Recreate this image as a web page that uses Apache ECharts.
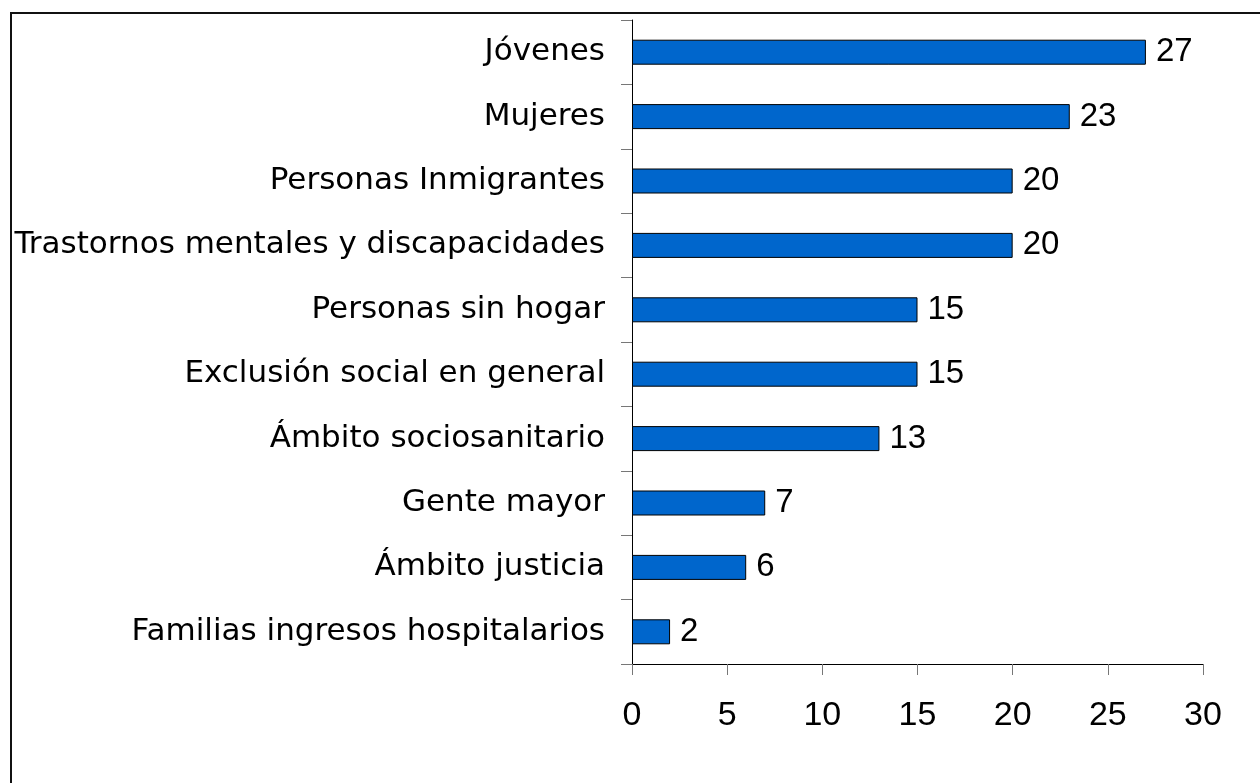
<!DOCTYPE html>
<html>
<head>
<meta charset="utf-8">
<script src="https://cdn.jsdelivr.net/npm/echarts@6/dist/echarts.min.js"></script>
<style>
    html, body { margin: 0; padding: 0; background: #fff; }
    #chart { width: 1260px; height: 783px; }
</style>
</head>
<body>
<div id="chart"></div>
<script>
var categories = [
    'Jóvenes',
    'Mujeres',
    'Personas Inmigrantes',
    'Trastornos mentales y discapacidades',
    'Personas sin hogar',
    'Exclusión social en general',
    'Ámbito sociosanitario',
    'Gente mayor',
    'Ámbito justicia',
    'Familias ingresos hospitalarios'
];
var values = [27, 23, 20, 20, 15, 15, 13, 7, 6, 2];
var xTicks = [0, 5, 10, 15, 20, 25, 30];

var myChart = echarts.init(document.getElementById('chart'));
var arial = '"Liberation Sans", Arial, sans-serif';
var wide = '"DejaVu Sans", Verdana, sans-serif';

var option = {
    animation: false,
    backgroundColor: '#fff',
    graphic: [{
        type: 'rect',
        shape: {x: 11, y: 13, width: 1300, height: 900},
        style: {fill: 'none', stroke: '#111', lineWidth: 2},
        silent: true
    }],
    grid: {
        left: 632,
        right: 57,
        top: 20,
        bottom: 119
    },
    xAxis: {
        type: 'value',
        min: xTicks[0],
        max: xTicks[xTicks.length - 1],
        interval: 5,
        splitLine: {show: false},
        axisLine: {show: true, lineStyle: {color: '#000', width: 1}},
        axisTick: {show: true, length: 11, lineStyle: {color: '#777'}},
        axisLabel: {
            margin: 35,
            fontSize: 34,
            color: '#000',
            fontFamily: arial
        }
    },
    yAxis: {
        type: 'category',
        inverse: true,
        data: categories,
        axisLine: {show: true, lineStyle: {color: '#000', width: 1}},
        axisTick: {show: true, length: 11, lineStyle: {color: '#777'}},
        axisLabel: {
            margin: 27,
            fontSize: 31,
            color: '#000',
            fontFamily: wide
        }
    },
    series: [{
        type: 'bar',
        data: values,
        barWidth: 25,
        itemStyle: {
            color: '#0066CC',
            borderColor: '#000',
            borderWidth: 1
        },
        label: {
            show: true,
            position: 'right',
            distance: 10,
            fontSize: 33,
            color: '#000',
            fontFamily: arial
        }
    }]
};
myChart.setOption(option);
</script>
</body>
</html>
